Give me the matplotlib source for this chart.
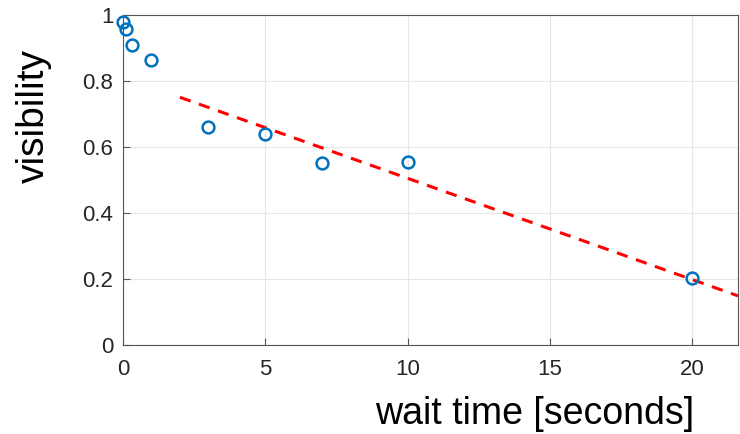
import matplotlib
matplotlib.use("Agg")
import matplotlib.pyplot as plt
import numpy as np

plt.rcParams['font.family'] = ['Liberation Sans', 'DejaVu Sans']

# measured visibility versus wait time
wait_s = [0, 0.12, 0.33, 1, 3, 5, 7, 10, 20]
visibility = [0.978, 0.957, 0.909, 0.863, 0.660, 0.638, 0.552, 0.554, 0.204]

# linear fit drawn from t = 2 s onward
fit_slope = -0.0307
fit_intercept = 0.812
fit_start = 2.0

x_max = 21.6
xticks = [0, 5, 10, 15, 20]
yticks = [0, 0.2, 0.4, 0.6, 0.8, 1]
ytick_labels = ['0', '0.2', '0.4', '0.6', '0.8', '1']

fig = plt.figure(figsize=(7.40, 4.34), dpi=100)
ax = fig.add_axes([123 / 740, (434 - 345) / 434, (738 - 123) / 740, 330 / 434])

fit_x = np.array([fit_start, x_max])
ax.plot(fit_x, fit_intercept + fit_slope * fit_x, color='#ff0000', lw=2.2,
        dashes=(3.7, 2.9), zorder=3)
ax.plot(wait_s, visibility, 'o', ms=8.5, mfc='none', mec='#0072BD', mew=1.8,
        zorder=4, clip_on=False)

ax.set_xlim(0, x_max)
ax.set_ylim(0, 1)
ax.set_xticks(xticks)
ax.set_yticks(yticks)
ax.set_yticklabels(ytick_labels)
ax.grid(True, color='#e6e6e6', lw=0.8)
ax.set_axisbelow(True)
for s in ax.spines.values():
    s.set_color('#555555')
    s.set_linewidth(0.8)
ax.tick_params(direction='in', length=5, width=0.8, color='#555555',
               labelsize=16, labelcolor='#262626')
ax.tick_params(axis='x', pad=10)
ax.tick_params(axis='y', pad=7)

fig.text(34 / 740, 1 - 116 / 434, 'visibility', rotation=90, fontsize=28,
         ha='center', va='center')
fig.text(694 / 740, 1 - 414 / 434, 'wait time [seconds]', fontsize=27,
         ha='right', va='center')

fig.savefig('out.png', dpi=100)
